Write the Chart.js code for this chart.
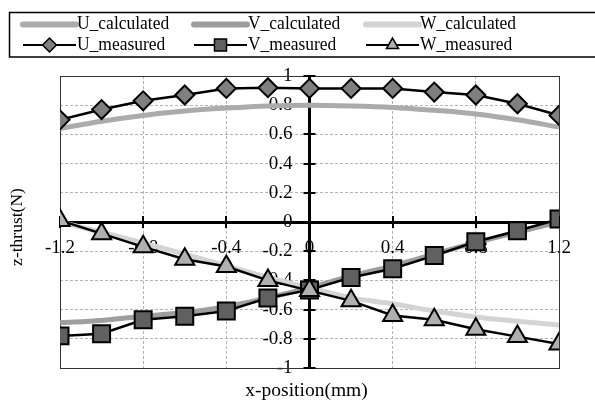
<!DOCTYPE html>
<html>
<head>
<meta charset="utf-8">
<title>z-thrust</title>
<script src="https://cdn.jsdelivr.net/npm/chart.js@4.4.1/dist/chart.umd.min.js"></script>
<style>
  html, body { margin: 0; padding: 0; background: #fff; }
  #wrap { width: 595px; height: 401px; }
</style>
</head>
<body>
<div id="wrap"><canvas id="thrustChart" width="595" height="401"></canvas></div>
<script>
// x positions (mm)
const xPositions = [-1.2, -1.0, -0.8, -0.6, -0.4, -0.2, 0, 0.2, 0.4, 0.6, 0.8, 1.0, 1.2];

// calculated curves (N)
const uCalculated = [0.64, 0.69, 0.73, 0.76, 0.78, 0.795, 0.80, 0.795, 0.785, 0.765, 0.74, 0.70, 0.65];
const vCalculated = [-0.69, -0.675, -0.645, -0.62, -0.58, -0.52, -0.45, -0.37, -0.30, -0.22, -0.14, -0.07, 0.0];
const wCalculated = [0.0, -0.07, -0.145, -0.22, -0.30, -0.38, -0.45, -0.52, -0.56, -0.61, -0.65, -0.68, -0.705];

// measured values (N)
const uMeasured = [0.70, 0.77, 0.83, 0.87, 0.915, 0.92, 0.915, 0.915, 0.915, 0.89, 0.87, 0.81, 0.73];
const vMeasured = [-0.78, -0.765, -0.67, -0.645, -0.61, -0.52, -0.465, -0.38, -0.32, -0.23, -0.135, -0.06, 0.02];
const wMeasured = [0.01, -0.08, -0.17, -0.255, -0.305, -0.40, -0.47, -0.54, -0.64, -0.67, -0.735, -0.785, -0.835];

// tick labels
const xTicks = [-1.2, -0.8, -0.4, 0, 0.4, 0.8, 1.2];
const yTicks = [-1, -0.8, -0.6, -0.4, -0.2, 0, 0.2, 0.4, 0.6, 0.8, 1];

const serif = '"Liberation Serif", "Times New Roman", serif';

function toPoints(values) {
  return values.map((v, i) => ({ x: xPositions[i], y: v }));
}

function calcSet(label, values, color) {
  return {
    label: label,
    data: toPoints(values),
    borderColor: color,
    backgroundColor: color,
    borderWidth: 5,
    pointRadius: 0,
    cubicInterpolationMode: 'monotone',
    order: 5,
    calc: true
  };
}

function measSet(label, values, style, fill, radius, order) {
  return {
    label: label,
    data: toPoints(values),
    borderColor: '#000',
    borderWidth: 2.5,
    pointStyle: style,
    pointRadius: radius,
    pointBackgroundColor: fill,
    pointBorderColor: '#000',
    pointBorderWidth: 2,
    order: order
  };
}

// marker for the legend, same shapes the chart uses
function drawMarker(ctx, style, r, x, y, fill) {
  ctx.save();
  ctx.fillStyle = fill;
  ctx.strokeStyle = '#000';
  ctx.lineWidth = 1.5;
  if (Chart.helpers && Chart.helpers.drawPoint) {
    Chart.helpers.drawPoint(ctx, { pointStyle: style, radius: r, rotation: 0, borderWidth: 1.5 }, x, y);
  }
  ctx.restore();
}

// text slightly narrower than tall, like the original
function squeezedText(ctx, text, x, y, sx) {
  ctx.save();
  ctx.translate(x, y);
  ctx.scale(sx, 1);
  ctx.fillText(text, 0, 0);
  ctx.restore();
}

// legend box, crossing tick marks, plot frame and axis titles
const decorations = {
  id: 'decorations',
  beforeDatasetsDraw(chart) {
    const { ctx, chartArea: a, scales } = chart;
    ctx.save();
    ctx.strokeStyle = '#333';
    ctx.lineWidth = 1;
    ctx.strokeRect(a.left + 0.5, a.top + 0.5, a.right - a.left, a.bottom - a.top);

    // ticks crossing the centred axes
    const x0 = scales.x.getPixelForValue(0);
    const y0 = scales.y.getPixelForValue(0);
    ctx.strokeStyle = '#000';
    ctx.lineWidth = 2;
    ctx.beginPath();
    scales.y.ticks.forEach(t => {
      const py = Math.round(scales.y.getPixelForValue(t.value));
      ctx.moveTo(x0 - 6, py);
      ctx.lineTo(x0 + 6, py);
    });
    scales.x.ticks.forEach(t => {
      const px = Math.round(scales.x.getPixelForValue(t.value));
      ctx.moveTo(px, y0 - 6);
      ctx.lineTo(px, y0 + 6);
    });
    ctx.stroke();
    ctx.restore();
  },
  afterDraw(chart) {
    const { ctx, chartArea: a } = chart;
    ctx.save();
    ctx.fillStyle = '#000';
    ctx.textAlign = 'center';
    ctx.textBaseline = 'middle';
    ctx.font = '19.5px ' + serif;
    ctx.fillText('x-position(mm)', (a.left + a.right) / 2 - 3, 391);
    ctx.font = '17.5px ' + serif;
    ctx.translate(17, (a.top + a.bottom) / 2 + 5);
    ctx.rotate(-Math.PI / 2);
    ctx.fillText('z-thrust(N)', 0, 0);
    ctx.restore();

    // legend
    ctx.save();
    ctx.strokeStyle = '#000';
    ctx.lineWidth = 1.5;
    ctx.strokeRect(9.5, 12.5, 600, 44.5);
    const cols = [23, 194, 366];
    const rows = [24.5, 45];
    const sample = 53;
    ctx.font = '19px ' + serif;
    ctx.textBaseline = 'middle';
    ctx.textAlign = 'left';
    chart.data.datasets.forEach((ds, i) => {
      const cx = cols[i % 3];
      const cy = rows[i < 3 ? 0 : 1];
      ctx.save();
      ctx.beginPath();
      ctx.moveTo(cx, cy);
      ctx.lineTo(cx + sample, cy);
      if (ds.calc) {
        ctx.strokeStyle = ds.borderColor;
        ctx.lineWidth = 6;
        ctx.lineCap = 'round';
      } else {
        ctx.strokeStyle = '#000';
        ctx.lineWidth = 2;
      }
      ctx.stroke();
      ctx.restore();
      if (!ds.calc) {
        const r = ds.pointStyle === 'rect' ? 8.5 : 7;
        drawMarker(ctx, ds.pointStyle, r, cx + sample / 2, cy, ds.pointBackgroundColor);
      }
      ctx.fillStyle = '#000';
      squeezedText(ctx, ds.label, cx + sample + 1, cy, 0.92);
    });
    ctx.restore();
  }
};

const chart = new Chart(document.getElementById('thrustChart'), {
  type: 'line',
  data: {
    datasets: [
      calcSet('U_calculated', uCalculated, '#ababab'),
      calcSet('V_calculated', vCalculated, '#9e9e9e'),
      calcSet('W_calculated', wCalculated, '#d4d4d4'),
      measSet('U_measured', uMeasured, 'rectRot', '#7f7f7f', 9.5, 2),
      measSet('V_measured', vMeasured, 'rect', '#606060', 12, 1),
      measSet('W_measured', wMeasured, 'triangle', '#b0b0b0', 11, 0)
    ]
  },
  options: {
    responsive: false,
    animation: false,
    devicePixelRatio: 1,
    layout: { padding: { left: 60, right: 36, top: 76, bottom: 33 } },
    plugins: {
      legend: { display: false },
      tooltip: { enabled: false }
    },
    scales: {
      x: {
        type: 'linear',
        min: -1.2,
        max: 1.2,
        position: { y: 0 },
        afterBuildTicks: s => { s.ticks = xTicks.map(v => ({ value: v })); },
        ticks: {
          autoSkip: false,
          maxRotation: 0,
          padding: 15,
          color: '#000',
          font: { family: serif, size: 19 },
          callback: v => String(v)
        },
        grid: { color: '#b4b4b4', lineWidth: 1, drawTicks: false },
        border: { display: true, color: '#000', width: 3, dash: [3, 2] }
      },
      y: {
        type: 'linear',
        min: -1,
        max: 1,
        position: 'center',
        afterBuildTicks: s => { s.ticks = yTicks.map(v => ({ value: v })); },
        ticks: {
          autoSkip: false,
          padding: 17,
          color: '#000',
          font: { family: serif, size: 19 },
          callback: v => String(v)
        },
        grid: { color: '#b4b4b4', lineWidth: 1, drawTicks: false },
        border: { display: true, color: '#000', width: 3, dash: [3, 2] }
      }
    }
  },
  plugins: [decorations]
});
</script>
</body>
</html>
